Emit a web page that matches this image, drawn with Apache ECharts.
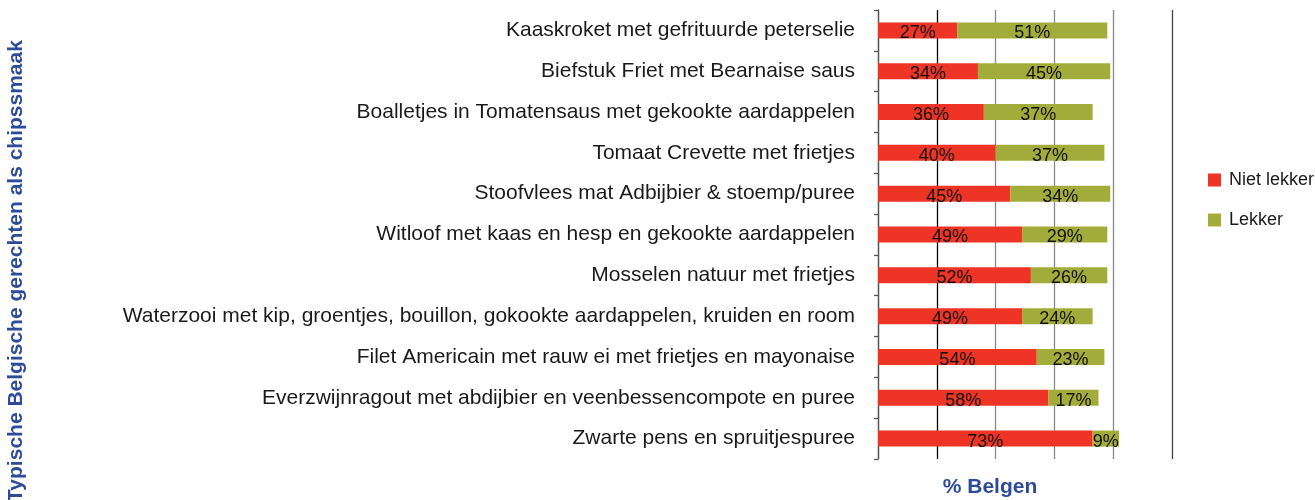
<!DOCTYPE html>
<html><head><meta charset="utf-8">
<script src="https://cdn.jsdelivr.net/npm/echarts@6/dist/echarts.min.js"></script>
<style>html,body{margin:0;padding:0;background:#fff}#c{width:1315px;height:500px}</style>
</head><body><div id="c"></div>
<script>
const categories = [
  'Kaaskroket met gefrituurde peterselie',
  'Biefstuk Friet met Bearnaise saus',
  'Boalletjes in Tomatensaus met gekookte aardappelen',
  'Tomaat Crevette met frietjes',
  'Stoofvlees mat Adbijbier & stoemp/puree',
  'Witloof met kaas en hesp en gekookte aardappelen',
  'Mosselen natuur met frietjes',
  'Waterzooi met kip, groentjes, bouillon, gokookte aardappelen, kruiden en room',
  'Filet Americain met rauw ei met frietjes en mayonaise',
  'Everzwijnragout met abdijbier en veenbessencompote en puree',
  'Zwarte pens en spruitjespuree'
];
const nietLekker = [27, 34, 36, 40, 45, 49, 52, 49, 54, 58, 73];
const lekker = [51, 45, 37, 37, 34, 29, 26, 24, 23, 17, 9];
const xTicks = [0, 20, 40, 60, 80, 100];

const chart = echarts.init(document.getElementById('c'));
const font = '"Liberation Sans", Arial, Helvetica, sans-serif';
const lbl = {show: true, position: 'inside', color: '#111', fontSize: 18, fontFamily: font, offset: [0, 3], formatter: p => p.value + '%'};
chart.setOption({
  animation: false,
  textStyle: {fontFamily: font},
  grid: {left: 878, top: 10, right: 143, bottom: 41, containLabel: false},
  xAxis: {
    type: 'value', min: xTicks[0], max: xTicks[xTicks.length - 1], interval: 20,
    axisLabel: {show: false}, axisTick: {show: false}, axisLine: {show: false},
    splitLine: {show: true, lineStyle: {color: ['#777', '#000', '#888', '#888', '#888', '#444'], width: 1.3}}
  },
  yAxis: {
    type: 'category', data: categories, inverse: true,
    axisLine: {show: true, lineStyle: {color: '#555', width: 1.3}},
    axisTick: {show: true, length: 4, lineStyle: {color: '#555', width: 1.3}},
    axisLabel: {color: '#1a1a1a', fontSize: 21, fontFamily: font, margin: 23, padding: [5, 0, 0, 0]}
  },
  legend: {
    orient: 'vertical', left: 1203, top: 166, itemGap: 22, itemWidth: 13, itemHeight: 13,
    icon: 'rect', textStyle: {fontSize: 18, color: '#1a1a1a', fontFamily: font, padding: [0, 0, 0, 3]},
    data: ['Niet lekker', 'Lekker']
  },
  graphic: [
    {type: 'text', x: 990, y: 487, style: {text: '% Belgen', fontSize: 21, fontWeight: 'bold', fill: '#2d4b98', fontFamily: font, align: 'center', verticalAlign: 'middle'}},
    {type: 'text', x: 16, y: 271, rotation: Math.PI / 2,
      style: {text: 'Typische Belgische gerechten als chipssmaak', fontSize: 21, fontWeight: 'bold', fill: '#2d4b98', fontFamily: font, align: 'center', verticalAlign: 'middle'}}
  ],
  series: [
    {name: 'Niet lekker', type: 'bar', stack: 's', barWidth: 16, data: nietLekker, itemStyle: {color: '#EE3424'}, label: lbl},
    {name: 'Lekker', type: 'bar', stack: 's', barWidth: 16, data: lekker, itemStyle: {color: '#A2AC3A'}, label: lbl}
  ]
});
</script></body></html>
